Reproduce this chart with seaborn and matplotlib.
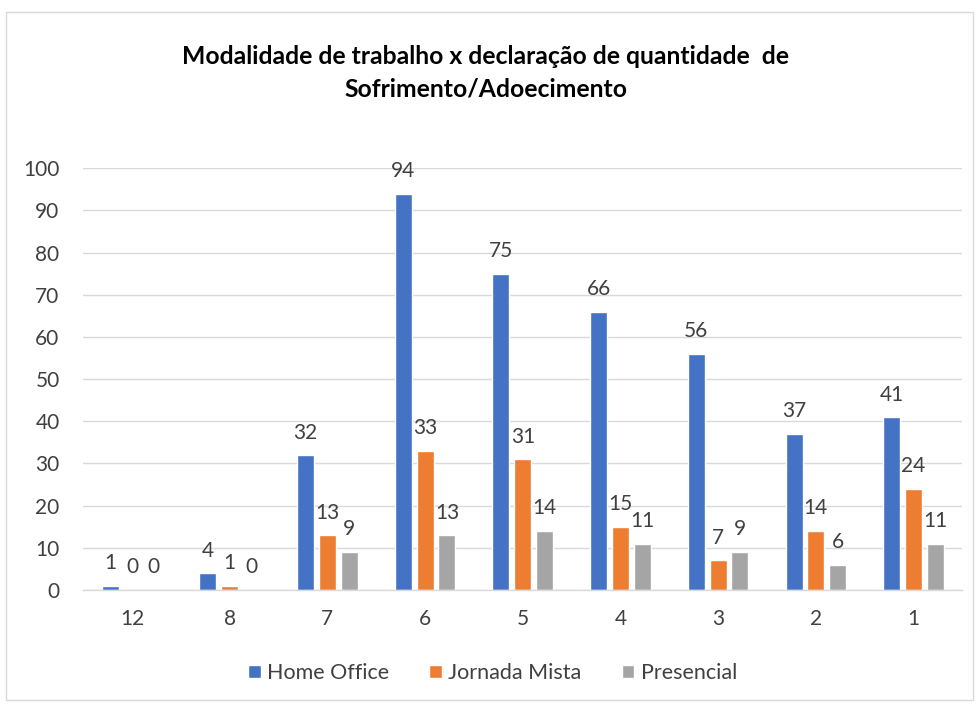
import matplotlib
matplotlib.use("Agg")
import matplotlib.pyplot as plt
from matplotlib.patches import Rectangle
import seaborn as sns
import pandas as pd

categories = ["12", "8", "7", "6", "5", "4", "3", "2", "1"]
home_office = [1, 4, 32, 94, 75, 66, 56, 37, 41]
jornada_mista = [0, 1, 13, 33, 31, 15, 7, 14, 24]
presencial = [0, 0, 9, 13, 14, 11, 9, 6, 11]
series_names = ["Home Office", "Jornada Mista", "Presencial"]
colors = ["#4472C4", "#ED7D31", "#A5A5A5"]

df = pd.DataFrame({
    "cat": categories * 3,
    "serie": [series_names[0]] * 9 + [series_names[1]] * 9 + [series_names[2]] * 9,
    "valor": home_office + jornada_mista + presencial,
})

sns.set_theme(style="white")
plt.rcParams["font.family"] = ["Lato", "DejaVu Sans"]

fig = plt.figure(figsize=(9.79, 7.04), dpi=100)
ax = fig.add_axes([0.085, 0.162, 0.898, 0.599])

sns.barplot(data=df, x="cat", y="valor", hue="serie", order=categories,
            hue_order=series_names, palette=colors, width=0.67, gap=0.22,
            ax=ax, saturation=1, errorbar=None, legend=True)

for cont in ax.containers:
    ax.bar_label(cont, fmt="%g", padding=9, fontsize=15, color="#404040")

ax.set_ylim(0, 100)
ax.set_yticks(range(0, 101, 10))
ax.yaxis.grid(True, color="#D9D9D9", linewidth=1)
ax.set_axisbelow(True)
for s in ["top", "right", "left"]:
    ax.spines[s].set_visible(False)
ax.spines["bottom"].set_color("#D9D9D9")
ax.spines["bottom"].set_linewidth(1)
ax.tick_params(axis="both", length=0, labelsize=15, colors="#404040")
ax.tick_params(axis="x", pad=14)
ax.tick_params(axis="y", pad=17)
ax.set_xlabel("")
ax.set_ylabel("")

leg = ax.legend(loc="center", bbox_to_anchor=(0.503, 0.044),
                bbox_transform=fig.transFigure, ncol=3,
                frameon=False, fontsize=15.5, handlelength=0.6, handleheight=0.6,
                columnspacing=1.85, handletextpad=0.3)
for t in leg.get_texts():
    t.set_color("#404040")

fig.text(0.496, 0.897, "Modalidade de trabalho x declaração de quantidade  de\nSofrimento/Adoecimento",
         ha="center", va="center", fontsize=17.8, fontweight="bold", color="#000000",
         linespacing=1.5)

fig.patches.append(Rectangle((0.006, 0.005), 0.988, 0.978, transform=fig.transFigure,
                             fill=False, edgecolor="#D9D9D9", linewidth=1))

fig.savefig("out.png", dpi=100)
